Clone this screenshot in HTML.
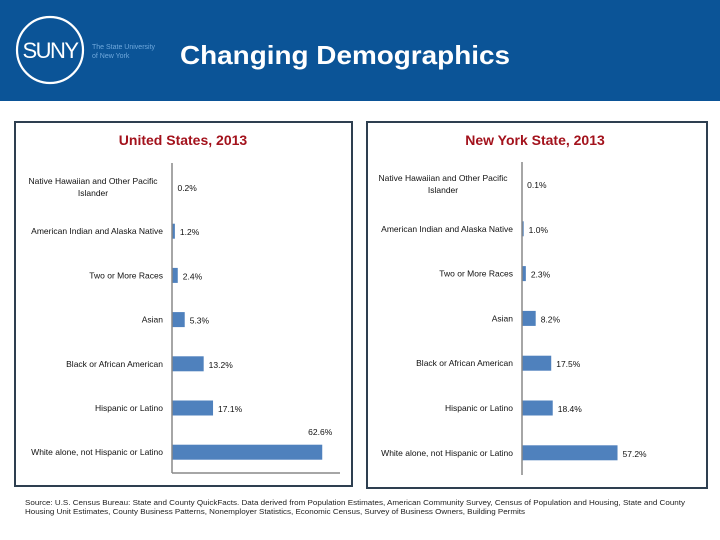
<!DOCTYPE html>
<html><head><meta charset="utf-8"><style>
body{margin:0;background:#fff;}
svg{display:block;font-family:"Liberation Sans",sans-serif;}
</style></head><body>
<svg id="c" width="720" height="540" viewBox="0 0 720 540">
<rect x="0" y="0" width="720" height="101" fill="#0b5497"/>
<g>
<circle cx="50" cy="50" r="33" fill="none" stroke="#fff" stroke-width="2.2"/>
<text x="50" y="58" text-anchor="middle" font-size="22" fill="#fff" letter-spacing="-1.5">SUNY</text>
<text x="92" y="49" font-size="7" fill="#6fa8dc">The State University</text>
<text x="92" y="58" font-size="7" fill="#6fa8dc">of New York</text>
</g>
<text x="180" y="64" font-size="26" font-weight="bold" fill="#fff" textLength="330" lengthAdjust="spacingAndGlyphs">Changing Demographics</text>
<rect x="15" y="122" width="337" height="364" fill="none" stroke="#2e3f50" stroke-width="2"/>
<rect x="367" y="122" width="340" height="366" fill="none" stroke="#2e3f50" stroke-width="2"/>
<text x="183" y="145" text-anchor="middle" font-size="14" font-weight="bold" fill="#a3121c">United States, 2013</text>
<text x="535" y="145" text-anchor="middle" font-size="14" font-weight="bold" fill="#a3121c">New York State, 2013</text>
<g id="us"></g>
<g id="ny"></g>
<text x="25" y="505" font-size="7.3" fill="#222" textLength="660" lengthAdjust="spacingAndGlyphs">Source: U.S. Census Bureau: State and County QuickFacts. Data derived from Population Estimates, American Community Survey, Census of Population and Housing, State and County</text>
<text x="25" y="514" font-size="7.3" fill="#222" textLength="500" lengthAdjust="spacingAndGlyphs">Housing Unit Estimates, County Business Patterns, Nonemployer Statistics, Economic Census, Survey of Business Owners, Building Permits</text>
</svg>
<script>
const categories = ["Native Hawaiian and Other Pacific|Islander","American Indian and Alaska Native","Two or More Races","Asian","Black or African American","Hispanic or Latino","White alone, not Hispanic or Latino"];
const usValues = [0.2, 1.2, 2.4, 5.3, 13.2, 17.1, 62.6];
const nyValues = [0.1, 1.0, 2.3, 8.2, 17.5, 18.4, 57.2];
const NS = "http://www.w3.org/2000/svg";
function mk(tag, attrs, parent){const e=document.createElementNS(NS,tag);for(const k in attrs)e.setAttribute(k,attrs[k]);parent.appendChild(e);return e;}
function draw(gid, values, axisX, y0, step, scale, axisTop, axisBot, labelX, hasBase, prefix){
  const g=document.getElementById(gid);
  const yPos=i=>y0+i*step;
  const xPos=v=>axisX+v*scale;
  categories.forEach((c,i)=>{
    const y=yPos(i);
    const parts=c.split("|");
    const cx=labelX-70;
    const t=mk("text",{x:parts.length>1?cx:labelX,y:parts.length>1?y-3:y+3,"text-anchor":parts.length>1?"middle":"end","font-size":"8.5",fill:"#111"},g);
    
    
    if(parts.length>1){
      const a=mk("tspan",{x:cx,dy:0},t);a.textContent=parts[0];
      const b=mk("tspan",{x:cx,dy:12},t);b.textContent=parts[1];
    } else t.textContent=c;
    const v=values[i];
    const r=mk("rect",{x:axisX,y:y-7.5,width:Math.max(xPos(v)-axisX,0.5),height:15,fill:"#4f81bd"},g);
    
    
    const big=(xPos(v)-axisX)>120 && gid==="us";
    const lx=big?xPos(v)-2:Math.max(xPos(v)+5,axisX+5);
    const vl=mk("text",{x:lx,y:big?y-17:y+4,"text-anchor":big?"middle":"start","font-size":"8.5",fill:"#111"},g);
    
    
    vl.textContent=v.toFixed(1)+"%";
  });
  const ax=mk("line",{x1:axisX,y1:axisTop,x2:axisX,y2:axisBot,stroke:"#888","stroke-width":"1.5"},g);
  
  
  if(hasBase){
    const bl=mk("line",{x1:axisX,y1:axisBot,x2:axisX+168,y2:axisBot,stroke:"#888","stroke-width":"1.5"},g);
    
    
  }
}
draw("us", usValues, 172, 187, 44.2, 2.4, 163, 473, 163, true, "us");
draw("ny", nyValues, 522, 184, 44.8, 1.67, 162, 475, 513, false, "ny");
</script>
</body></html>
